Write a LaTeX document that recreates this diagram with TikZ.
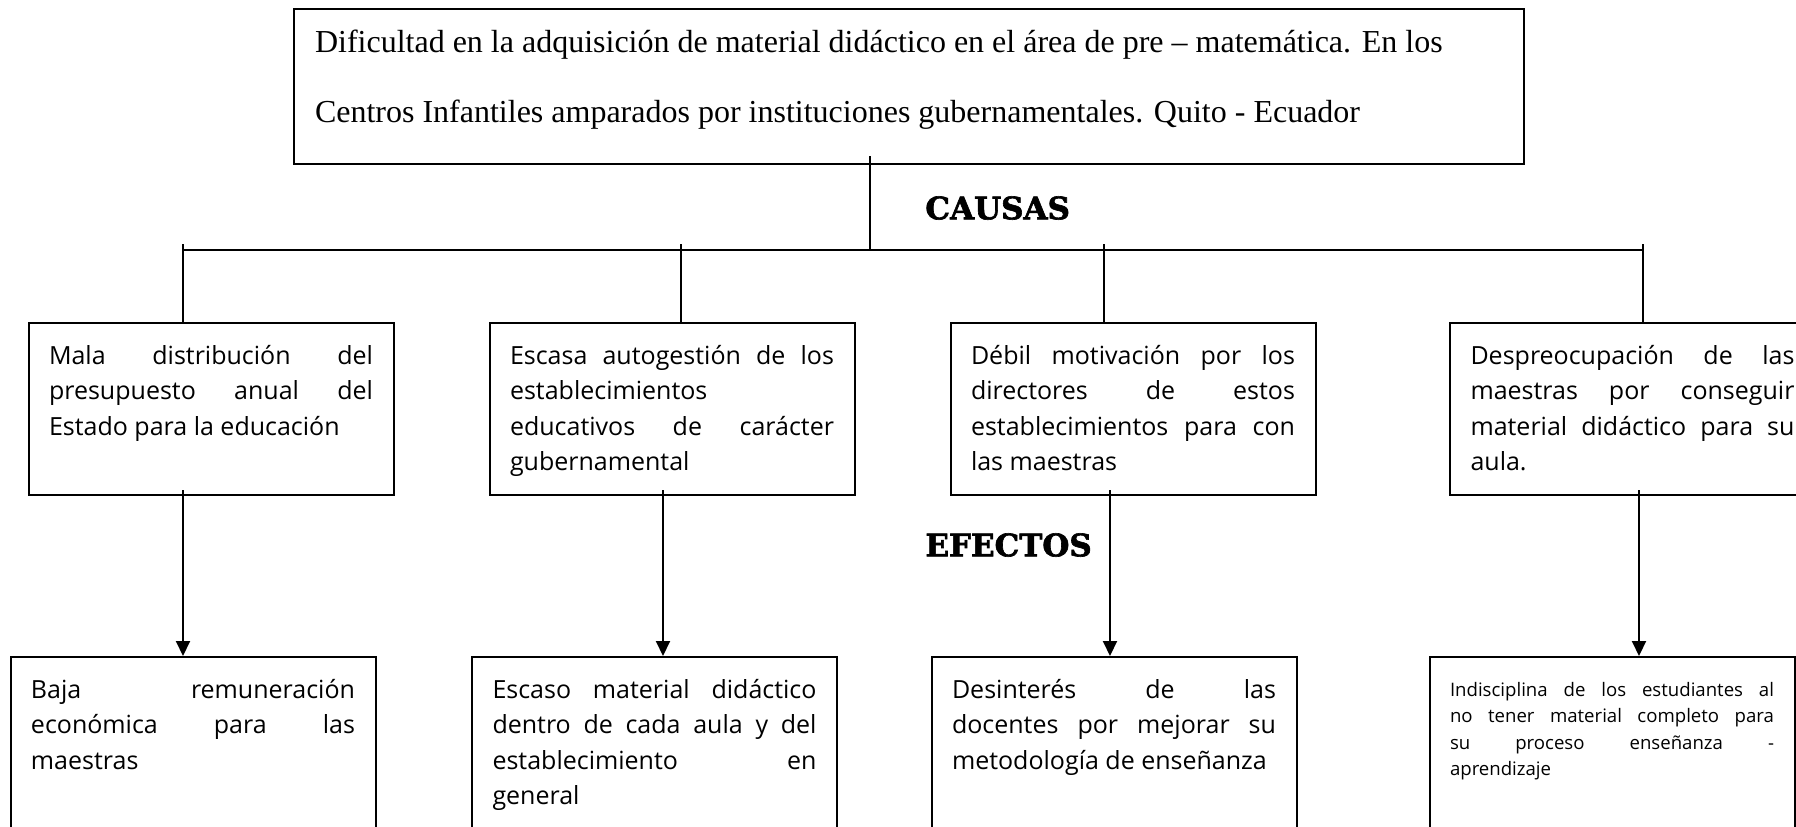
\documentclass[tikz,border=0pt]{standalone}
\usepackage{fontspec}
\setmainfont{Open Sans}
\newfontfamily\serifTitulo{Liberation Serif}
\newfontfamily\serifRotulo[FakeBold=2]{DejaVu Serif}
\usetikzlibrary{arrows.meta, calc}

\newcommand{\textocaja}[1]{\parbox[c][64pt][t]{162pt}{\fontsize{12.5}{17.75}\selectfont #1}}
\newcommand{\textochico}[1]{\parbox[c][61pt][t]{162pt}{\fontsize{9.3}{13.3}\selectfont #1}}

\begin{document}
\begin{tikzpicture}[x=0.5pt, y=-0.5pt,
  linea/.style={line width=1pt},
  flecha/.style={line width=1pt, -{Triangle[length=7.5pt, width=7pt]}},
  caja/.style={draw, line width=1pt, inner xsep=10.25pt, inner ysep=11pt},
  rotulo/.style={font=\serifRotulo\bfseries\fontsize{15.5}{18}\selectfont, inner sep=0pt}]
  \useasboundingbox (0,0) rectangle (1796,826);

  % Problema central
  \node[caja, line width=1.2pt, inner xsep=10.5pt, inner ysep=10.5pt] (problema) at (909,86.5)
    {\parbox[c][56.5pt][t]{594pt}{\serifTitulo\fontsize{16}{35}\selectfont
      Dificultad en la adquisición de material didáctico en el área de pre – matemática. En los\\
      Centros Infantiles amparados por instituciones gubernamentales. Quito - Ecuador}};

  \node[rotulo, anchor=west] (causas) at (925,208) {CAUSAS};
  \node[rotulo, anchor=west] (efectos) at (925,545) {EFECTOS};

  % Causas
  \node[caja] (c1) at (211,409) {\textocaja{Mala distribución del\linebreak presupuesto anual del\linebreak Estado para la educación}};
  \node[caja] (c2) at (672,409) {\textocaja{Escasa autogestión de los\linebreak establecimientos\linebreak educativos de carácter\linebreak gubernamental}};
  \node[caja] (c3) at (1133,409) {\textocaja{Débil motivación por los\linebreak directores de estos\linebreak establecimientos para con\linebreak las maestras}};
  \node[caja] (c4) at (1632.5,409) {\textocaja{Despreocupación de las\linebreak maestras por conseguir\linebreak material didáctico para su\linebreak aula.}};

  % Efectos
  \node[caja] (e1) at (193,743) {\textocaja{Baja remuneración\linebreak económica para las\linebreak maestras}};
  \node[caja] (e2) at (654.5,743) {\textocaja{Escaso material didáctico\linebreak dentro de cada aula y del\linebreak establecimiento en\linebreak general}};
  \node[caja] (e3) at (1114,743) {\textocaja{Desinterés de las\linebreak docentes por mejorar su\linebreak metodología de enseñanza}};
  \node[caja, inner ysep=12.5pt] (e4) at (1612,743) {\textochico{Indisciplina de los estudiantes al\linebreak no tener material completo para\linebreak su proceso enseñanza -\linebreak aprendizaje}};

  % Ramas
  \coordinate (bus) at (870,250);
  \coordinate (b1) at (183,250);
  \coordinate (b2) at (681,250);
  \coordinate (b3) at (1104,250);
  \coordinate (b4) at (1643,250);
  \draw[linea] ($(problema.south -| bus)+(0,-9)$) -- (bus);
  \draw[linea] (b1) -- (b4);
  \foreach \i in {1,...,4}
    \draw[linea] ($(b\i)+(0,-6)$) -- (b\i |- c\i.north);

  % Flechas causa-efecto
  \coordinate (a1) at (183,490);
  \coordinate (a2) at (663,490);
  \coordinate (a3) at (1110,490);
  \coordinate (a4) at (1639,490);
  \foreach \i in {1,...,4}
    \draw[flecha] (a\i) -- (a\i |- e\i.north);
\end{tikzpicture}
\end{document}
